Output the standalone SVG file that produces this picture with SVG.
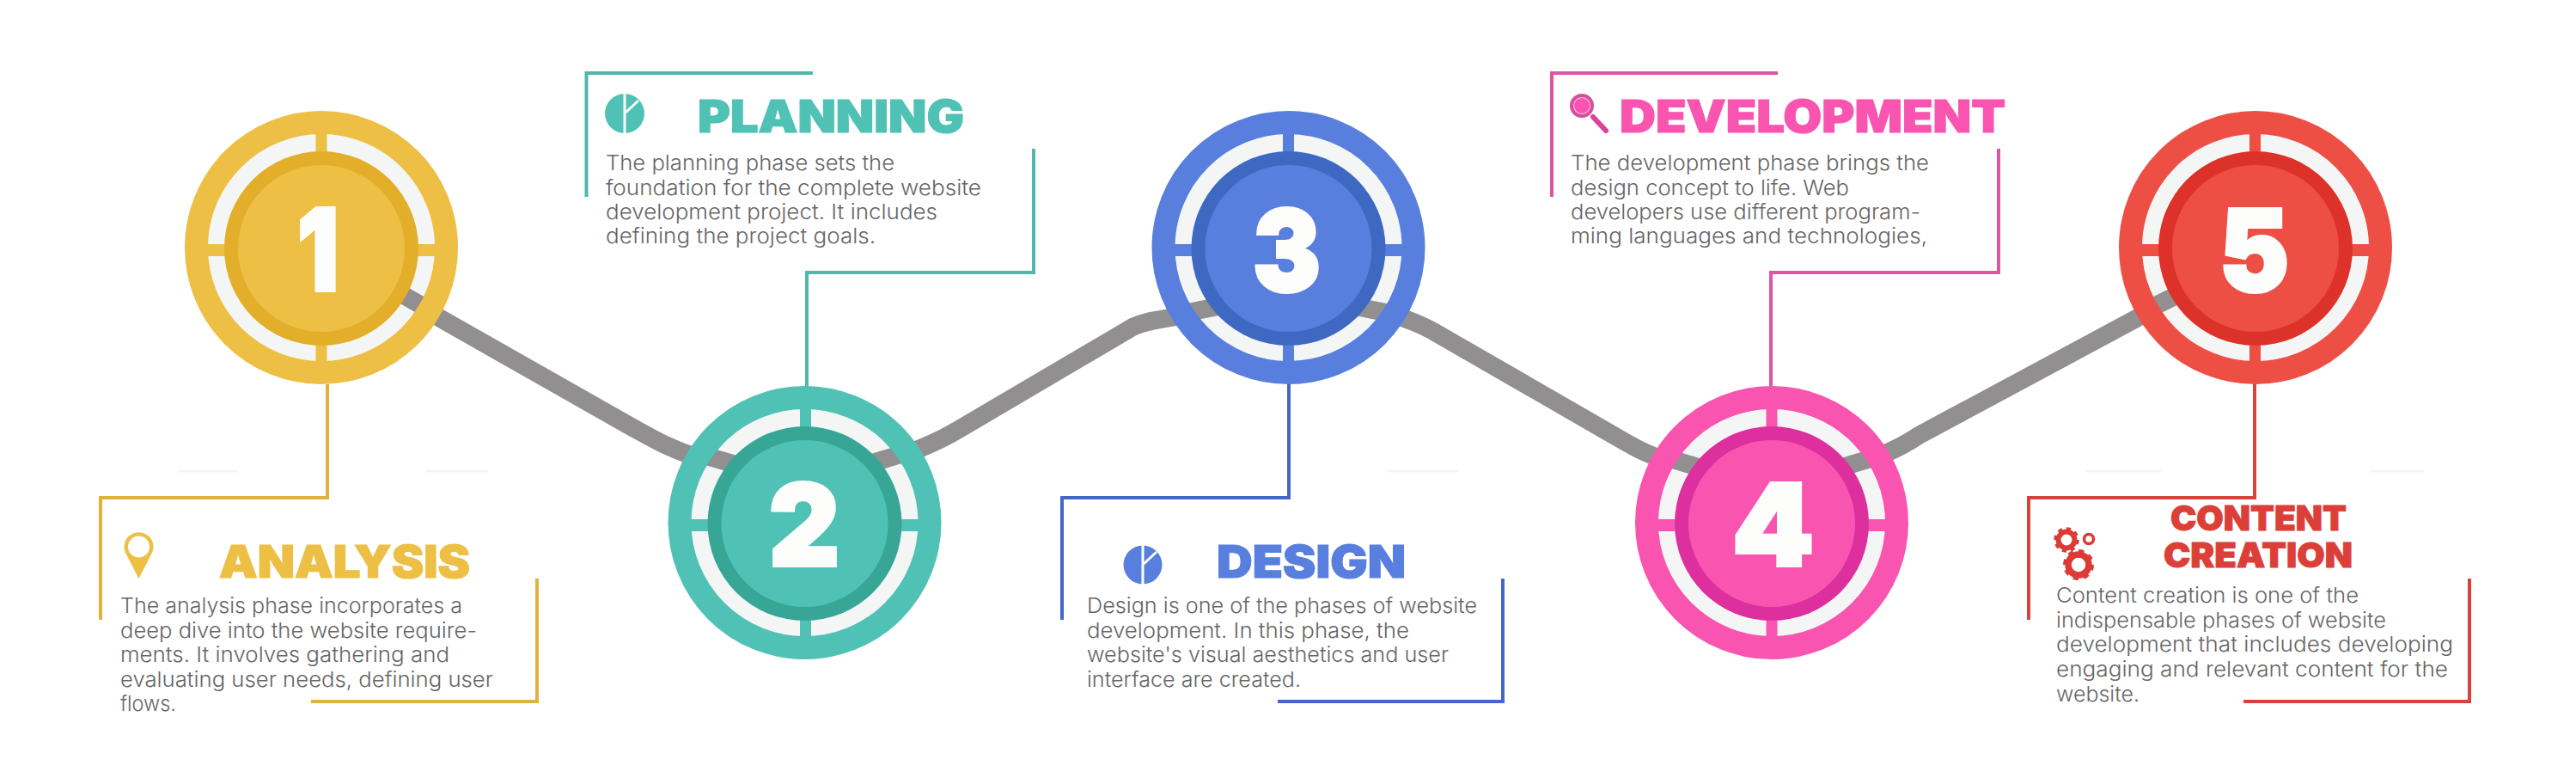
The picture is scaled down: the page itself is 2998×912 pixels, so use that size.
<svg xmlns="http://www.w3.org/2000/svg" width="2998" height="912" viewBox="0 0 2998 912">
<style>
.bg{fill:#fff}
.wire{fill:none;stroke:#918f8f;stroke-width:21}
.stub{stroke:#918f8f;stroke-width:21}
.white{fill:#f3f6f5}
.band{fill:none;stroke-width:27}
.lead{fill:none;stroke-width:4}
.faint{stroke:#f3f3f3;stroke-width:3}
.num{font-family:Inter,"Liberation Sans",sans-serif;font-weight:900;font-size:132px;fill:#fdfdfc;stroke:#fdfdfc;stroke-width:4;stroke-linejoin:miter}
.title{font-family:Inter,"Liberation Sans",sans-serif;font-weight:900;font-size:52px;stroke-width:1.200}
.title2{font-family:Inter,"Liberation Sans",sans-serif;font-weight:900;font-size:40px;stroke:#dc3f38;stroke-width:1}
.body{font-family:Inter,"Liberation Sans",sans-serif;font-weight:300;font-size:24px;fill:#666}
.y .a{fill:#edbf45}.y .b{stroke:#edbf45}.y .d{fill:#e3ae2a}.y .l{stroke:#e0b23b}
.t .a{fill:#50c2b5}.t .b{stroke:#50c2b5}.t .d{fill:#37a697}.t .l{stroke:#4fb8ad}
.u .a{fill:#587fdd}.u .b{stroke:#587fdd}.u .d{fill:#3f68c3}.u .l{stroke:#4466c8}
.p .a{fill:#f955b0}.p .b{stroke:#f955b0}.p .d{fill:#dd2f9e}.p .l{stroke:#dd55a5}
.r .a{fill:#ee4f45}.r .b{stroke:#ee4f45}.r .d{fill:#dc3229}.r .l{stroke:#d8423b}
.ta{fill:#dc3f38}
</style>
<rect class="bg" width="2998" height="912"/>
<g id="faint-rules">
<line class="faint" x1="208" y1="548" x2="276" y2="548"/>
<line class="faint" x1="496" y1="548" x2="568" y2="548"/>
<line class="faint" x1="1615" y1="548" x2="1697" y2="548"/>
<line class="faint" x1="2428" y1="548" x2="2515" y2="548"/>
<line class="faint" x1="2759" y1="548" x2="2821" y2="548"/>
</g>
<g id="connectors">
<path class="wire" d="M480 352L725 491C760 511 790 528 830 537"/>
<path class="wire" d="M1010 541C1050 532 1090 515 1115 500L1319 380C1340 370 1360 373 1420 357"/>
<path class="wire" d="M1585 358C1620 364 1650 374 1676 390L1893 515C1920 531 1945 540 1975 543"/>
<path class="wire" d="M2150 542C2180 535 2210 522 2234 506L2530 347"/>
</g>
<g id="node-1" class="y">
<polyline class="lead l" points="381,447 381,579 117,579 117,721"/>
<polyline class="lead l" points="625,673 625,816 362,816"/>
<circle class="white" cx="374" cy="288" r="132"/>
<rect class="a" x="367.500" y="150" width="13" height="276"/>
<rect class="a" x="236" y="284" width="276" height="14"/>
<line class="stub" x1="462" y1="339" x2="502" y2="362"/>
<circle class="band b" cx="374" cy="288" r="145.500"/>
<circle class="d" cx="374" cy="289" r="113"/>
<circle class="a" cx="374" cy="289" r="97"/>
<text class="num" x="346" y="338" textLength="48" lengthAdjust="spacingAndGlyphs">1</text>
<path class="a" d="M161.500 673L147 645A17 17 0 1 1 176 645Z"/>
<circle cx="161.500" cy="636" r="12.500" fill="#fff"/>
<text class="title a b" x="255" y="672" textLength="292" lengthAdjust="spacingAndGlyphs">ANALYSIS</text>
<text class="body" x="140" y="713" textLength="398" lengthAdjust="spacingAndGlyphs">The analysis phase incorporates a</text>
<text class="body" x="140" y="742" textLength="415" lengthAdjust="spacingAndGlyphs">deep dive into the website require-</text>
<text class="body" x="140" y="770" textLength="383" lengthAdjust="spacingAndGlyphs">ments. It involves gathering and</text>
<text class="body" x="140" y="799" textLength="434" lengthAdjust="spacingAndGlyphs">evaluating user needs, defining user</text>
<text class="body" x="140" y="827" textLength="65" lengthAdjust="spacingAndGlyphs">flows.</text>
</g>
<g id="node-2" class="t">
<polyline class="lead l" points="682.500,229 682.500,85 946,85"/>
<polyline class="lead l" points="939,450 939,317 1203,317 1203,173"/>
<circle class="white" cx="936.500" cy="608" r="132"/>
<rect class="a" x="931" y="470" width="13" height="276"/>
<rect class="a" x="799" y="604" width="276" height="14"/>
<line class="stub" x1="810" y1="527" x2="855" y2="540"/>
<line class="stub" x1="1010" y1="540" x2="1050" y2="528"/>
<circle class="band b" cx="936.500" cy="608" r="145.500"/>
<circle class="d" cx="936.500" cy="609" r="113"/>
<circle class="a" cx="936.500" cy="609" r="97"/>
<text class="num" x="895" y="658" textLength="82" lengthAdjust="spacingAndGlyphs">2</text>
<circle class="a" cx="727" cy="132" r="23"/>
<path d="M727 108V156M728 131L743 117" stroke="#fff" stroke-width="3" fill="none"/>
<text class="title a b" x="812" y="154" textLength="310" lengthAdjust="spacingAndGlyphs">PLANNING</text>
<text class="body" x="705" y="198" textLength="336" lengthAdjust="spacingAndGlyphs">The planning phase sets the</text>
<text class="body" x="705" y="227" textLength="437" lengthAdjust="spacingAndGlyphs">foundation for the complete website</text>
<text class="body" x="705" y="255" textLength="386" lengthAdjust="spacingAndGlyphs">development project. It includes</text>
<text class="body" x="705" y="283" textLength="314" lengthAdjust="spacingAndGlyphs">defining the project goals.</text>
</g>
<g id="node-3" class="u">
<polyline class="lead l" points="1500,447 1500,579 1236,579 1236,721"/>
<polyline class="lead l" points="1749,673 1749,816 1487,816"/>
<circle class="white" cx="1499.500" cy="288" r="132"/>
<rect class="a" x="1493" y="150" width="13" height="276"/>
<rect class="a" x="1361" y="284" width="276" height="14"/>
<line class="stub" x1="1380" y1="364" x2="1420" y2="356"/>
<line class="stub" x1="1575" y1="356" x2="1615" y2="364"/>
<circle class="band b" cx="1499.500" cy="288" r="145.500"/>
<circle class="d" cx="1499.500" cy="289" r="113"/>
<circle class="a" cx="1499.500" cy="289" r="97"/>
<text class="num" x="1458" y="339" textLength="79" lengthAdjust="spacingAndGlyphs">3</text>
<circle class="a" cx="1330" cy="657" r="22.500"/>
<path d="M1330 634V680M1331 656L1346 642" stroke="#fff" stroke-width="3" fill="none"/>
<text class="title a b" x="1416" y="672" textLength="220" lengthAdjust="spacingAndGlyphs">DESIGN</text>
<text class="body" x="1265" y="713" textLength="454" lengthAdjust="spacingAndGlyphs">Design is one of the phases of website</text>
<text class="body" x="1265" y="742" textLength="375" lengthAdjust="spacingAndGlyphs">development. In this phase, the</text>
<text class="body" x="1265" y="770" textLength="421" lengthAdjust="spacingAndGlyphs">website's visual aesthetics and user</text>
<text class="body" x="1265" y="799" textLength="249" lengthAdjust="spacingAndGlyphs">interface are created.</text>
</g>
<g id="node-4" class="p">
<polyline class="lead l" points="1806,229 1806,85 2069,85"/>
<polyline class="lead l" points="2061,450 2061,317 2326,317 2326,173"/>
<circle class="white" cx="2062" cy="608" r="132"/>
<rect class="a" x="2055.500" y="470" width="13" height="276"/>
<rect class="a" x="1924" y="604" width="276" height="14"/>
<line class="stub" x1="1945" y1="534" x2="1985" y2="546"/>
<line class="stub" x1="2142" y1="544" x2="2182" y2="532"/>
<circle class="band b" cx="2062" cy="608" r="145.500"/>
<circle class="d" cx="2062" cy="609" r="113"/>
<circle class="a" cx="2062" cy="609" r="97"/>
<text class="num" x="2016" y="658" textLength="95" lengthAdjust="spacingAndGlyphs">4</text>
<circle cx="1841" cy="123" r="12" fill="#f9c6e4" stroke="#d84fa0" stroke-width="4"/>
<circle class="a" cx="1841" cy="123" r="9"/>
<line x1="1854" y1="136" x2="1869" y2="152" stroke="#e0409f" stroke-width="6" stroke-linecap="round"/>
<text class="title a b" x="1885" y="154" textLength="449" lengthAdjust="spacingAndGlyphs">DEVELOPMENT</text>
<text class="body" x="1828" y="198" textLength="417" lengthAdjust="spacingAndGlyphs">The development phase brings the</text>
<text class="body" x="1828" y="227" textLength="324" lengthAdjust="spacingAndGlyphs">design concept to life. Web</text>
<text class="body" x="1828" y="255" textLength="407" lengthAdjust="spacingAndGlyphs">developers use different program-</text>
<text class="body" x="1828" y="283" textLength="415" lengthAdjust="spacingAndGlyphs">ming languages and technologies,</text>
</g>
<g id="node-5" class="r">
<polyline class="lead l" points="2624,447 2624,579 2361,579 2361,721"/>
<polyline class="lead l" points="2874,673 2874,816 2611,816"/>
<circle class="white" cx="2625" cy="288" r="132"/>
<rect class="a" x="2618" y="150" width="13" height="276"/>
<rect class="a" x="2487" y="284" width="276" height="14"/>
<line class="stub" x1="2500" y1="360" x2="2540" y2="340"/>
<circle class="band b" cx="2625" cy="288" r="145.500"/>
<circle class="d" cx="2625" cy="289" r="113"/>
<circle class="a" cx="2625" cy="289" r="97"/>
<text class="num" x="2583" y="339" textLength="81" lengthAdjust="spacingAndGlyphs">5</text>
<g fill="none" stroke="#dc3a35">
<circle cx="2419" cy="657" r="12" stroke-width="7.500"/>
<circle cx="2419" cy="657" r="16" stroke-width="4" pathLength="16" stroke-dasharray="1 1"/>
<circle cx="2405" cy="628" r="9.500" stroke-width="6"/>
<circle cx="2405" cy="628" r="13" stroke-width="3.500" pathLength="16" stroke-dasharray="1 1"/>
<circle cx="2431" cy="627" r="5.500" stroke-width="3.500"/>
</g>
<text class="title2 ta"><tspan x="2526" y="617" textLength="205" lengthAdjust="spacingAndGlyphs">CONTENT</tspan><tspan x="2518" y="660" textLength="220" lengthAdjust="spacingAndGlyphs">CREATION</tspan></text>
<text class="body" x="2393" y="701" textLength="352" lengthAdjust="spacingAndGlyphs">Content creation is one of the</text>
<text class="body" x="2393" y="730" textLength="384" lengthAdjust="spacingAndGlyphs">indispensable phases of website</text>
<text class="body" x="2393" y="758" textLength="462" lengthAdjust="spacingAndGlyphs">development that includes developing</text>
<text class="body" x="2393" y="787" textLength="456" lengthAdjust="spacingAndGlyphs">engaging and relevant content for the</text>
<text class="body" x="2393" y="816" textLength="97" lengthAdjust="spacingAndGlyphs">website.</text>
</g>
</svg>
